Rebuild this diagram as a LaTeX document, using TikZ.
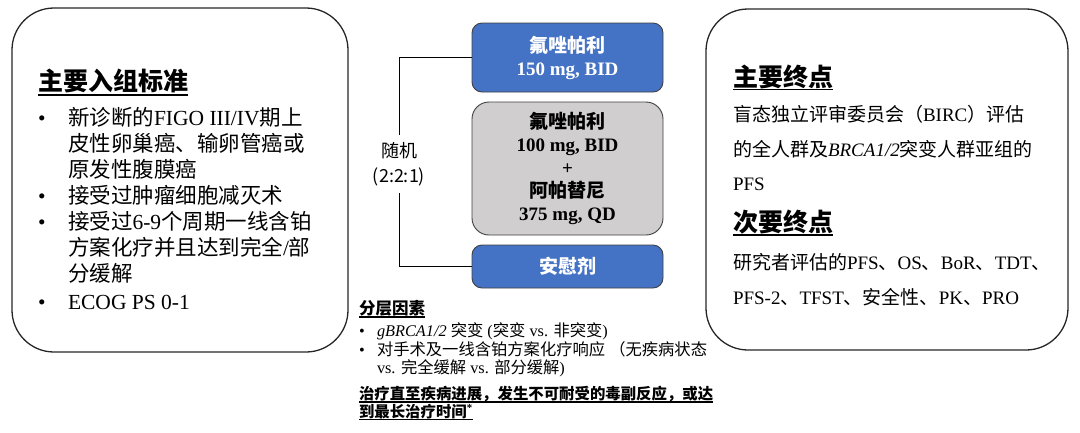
\documentclass[tikz,border=0pt]{standalone}
\usepackage{fontspec}
\setmainfont{Liberation Serif}
\newfontfamily\cjk{Noto Sans CJK SC}
\XeTeXinterchartokenstate=1
\newXeTeXintercharclass\CJKcls
\newcount\cjkcnt
\def\cjkrange#1#2{\cjkcnt=#1\relax
  \loop \XeTeXcharclass\cjkcnt=\CJKcls
  \ifnum\cjkcnt<#2\relax \advance\cjkcnt by 1 \repeat}
\cjkrange{"4E00}{"9FFF}
\cjkrange{"3000}{"303F}
\cjkrange{"FF00}{"FFEF}
\XeTeXinterchartoks 0 \CJKcls = {\begingroup\cjk}
\XeTeXinterchartoks 4095 \CJKcls = {\begingroup\cjk}
\XeTeXinterchartoks \CJKcls 0 = {\endgroup}
\XeTeXinterchartoks \CJKcls 4095 = {\endgroup}
\definecolor{armblue}{HTML}{4472C4}
\definecolor{armgray}{HTML}{D0CECE}
\begin{document}
\begin{tikzpicture}[x=1pt,y=-1pt,
  bigbox/.style={draw=black!85, line width=1.3pt, rounded corners=42pt, inner sep=0pt},
  arm/.style={draw=black!75, line width=0.9pt, rounded corners=10pt, align=center,
    inner sep=0pt, minimum width=191pt, font=\bfseries\fontsize{19}{23}\selectfont},
  bluearm/.style={arm, fill=armblue, text=white},
  grayarm/.style={arm, fill=armgray, rounded corners=17pt},
  txt/.style={anchor=base west, inner sep=0pt, outer sep=0pt},
  bul/.style={anchor=base, inner sep=0pt, outer sep=0pt},
  conn/.style={draw=black, line width=1pt},
  uline/.style={draw=black, line width=1.4pt},
  fa/.style={font=\fontsize{21.5}{26}\selectfont},
  fr/.style={font=\fontsize{19}{23}\selectfont},
  fs/.style={font=\fontsize{16.3}{18}\selectfont}
]
\useasboundingbox (0,0) rectangle (1080,432);

% ---------- left box ----------
\node[bigbox, minimum width=336pt, minimum height=344pt] (lbox) at (180,180) {};
\node[txt, font=\bfseries\fontsize{25}{30}\selectfont] (lt) at (38,90) {主要入组标准};
\draw[uline] ([yshift=-5pt]lt.base west) -- ([yshift=-5pt]lt.base east);
\node[bul, fa] (lb1) at (42,125) {•};
\node[txt, fa] (l1) at (68,125) {新诊断的FIGO III/IV期上};
\node[txt, fa] (l2) at (68,151) {皮性卵巢癌、输卵管癌或};
\node[txt, fa] (l3) at (68,177) {原发性腹膜癌};
\node[bul, fa] (lb2) at (42,203) {•};
\node[txt, fa] (l4) at (68,203) {接受过肿瘤细胞减灭术};
\node[bul, fa] (lb3) at (42,229) {•};
\node[txt, fa] (l5) at (68,229) {接受过6-9个周期一线含铂};
\node[txt, fa] (l6) at (68,255) {方案化疗并且达到完全/部};
\node[txt, fa] (l7) at (68,281) {分缓解};
\node[bul, fa] (lb4) at (42,309) {•};
\node[txt, fa] (l8) at (68,309) {ECOG PS 0-1};

% ---------- middle arms ----------
\node[bluearm, minimum height=69pt] (arm1) at (567.5,57.5) {氟唑帕利\\150 mg, BID};
\node[grayarm, minimum height=133pt] (arm2) at (567.5,168.5) {氟唑帕利\\100 mg, BID\\+\\阿帕替尼\\375 mg, QD};
\node[bluearm, minimum height=43pt] (arm3) at (567.5,266.5) {安慰剂};
\node[inner sep=0pt, minimum height=57pt, align=center,
      font=\cjk\fontsize{18}{25}\selectfont] (rand) at (399,164) {随机\\{\cjk (2:2:1)}};
\draw[conn] (arm1.west) -| (rand.north);
\draw[conn] (arm3.west) -| (rand.south);

% ---------- stratification ----------
\node[txt, font=\bfseries\fontsize{16.5}{18}\selectfont] (st) at (359,314.5) {分层因素};
\draw[uline, line width=1.2pt] ([yshift=-2.5pt]st.base west) -- ([yshift=-2.5pt]st.base east);
\node[bul, fs] (sb1) at (362,336) {•};
\node[txt, fs] (s1) at (377,336) {\textit{gBRCA1/2} 突变 (突变 vs. 非突变)};
\node[bul, fs] (sb2) at (362,355) {•};
\node[txt, fs] (s2) at (377,355) {对手术及一线含铂方案化疗响应 （无疾病状态};
\node[txt, fs] (s3) at (377,373) {vs. 完全缓解 vs. 部分缓解)};
\node[txt, font=\bfseries\fontsize{15.4}{18}\selectfont] (t1) at (359,399.5) {治疗直至疾病进展，发生不可耐受的毒副反应，或达};
\draw[uline, line width=1.2pt] ([yshift=-2.5pt]t1.base west) -- ([yshift=-2.5pt]t1.base east);
\node[txt, font=\bfseries\fontsize{15.4}{18}\selectfont] (t2) at (359,417) {到最长治疗时间\textsuperscript{*}};
\draw[uline, line width=1.2pt] ([yshift=-2.5pt]t2.base west) -- ([yshift=-2.5pt]t2.base east);

% ---------- right box ----------
\node[bigbox, minimum width=362pt, minimum height=341pt] (rbox) at (887,179.5) {};
\node[txt, font=\bfseries\fontsize{25}{30}\selectfont] (rt) at (733,86) {主要终点};
\draw[uline] ([yshift=-3.5pt]rt.base west) -- ([yshift=-3.5pt]rt.base east);
\node[txt, fr] (r1) at (733,121.5) {盲态独立评审委员会（BIRC）评估};
\node[txt, fr] (r2) at (733,156) {的全人群及\textit{BRCA1/2}突变人群亚组的};
\node[txt, fr] (r3) at (733,190.5) {PFS};
\node[txt, font=\bfseries\fontsize{25}{30}\selectfont] (rt2) at (733,231.5) {次要终点};
\draw[uline] ([yshift=-3.5pt]rt2.base west) -- ([yshift=-3.5pt]rt2.base east);
\node[txt, fr] (r4) at (733,269.5) {研究者评估的PFS、OS、BoR、TDT、};
\node[txt, fr] (r5) at (733,304) {PFS-2、TFST、安全性、PK、PRO};
\end{tikzpicture}
\end{document}
